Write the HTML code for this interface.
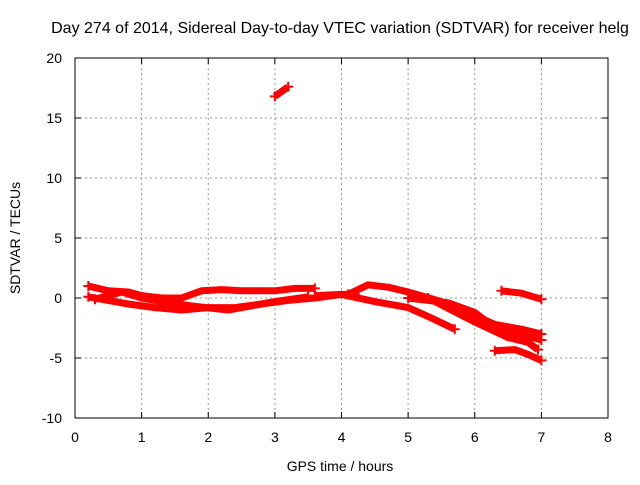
<!DOCTYPE html>
<html><head><meta charset="utf-8"><style>
body{margin:0;background:#fff}
svg text{font-family:"Liberation Sans",sans-serif;font-size:14px;fill:#000}
</style></head><body>
<svg id="c" width="640" height="480">
<text x="340" y="33" text-anchor="middle" style="font-size:16px">Day 274 of 2014, Sidereal Day-to-day VTEC variation (SDTVAR) for receiver helg</text>
<text x="340" y="471" text-anchor="middle">GPS time / hours</text>
<text transform="translate(20,238) rotate(-90)" text-anchor="middle">SDTVAR / TECUs</text>
<g id="grid"></g><g id="ticks"></g><g id="series"></g>
<rect x="75" y="58" width="533" height="360" fill="none" stroke="#000"/>
</svg>
<script>
const xTicks=[0,1,2,3,4,5,6,7,8];
const yTicks=[-10,-5,0,5,10,15,20];
const sA=[[0.2,1.0],[0.5,0.6],[0.8,0.5],[1.0,0.2],[1.3,0.0],[1.6,0.0],[1.9,0.6],[2.2,0.7],[2.5,0.6],[3.0,0.6],[3.3,0.8],[3.6,0.8]];
const sB=[[0.2,0.1],[0.5,-0.2],[0.8,-0.5],[1.2,-0.8],[1.6,-1.0],[2.0,-0.8],[2.4,-0.8],[2.8,-0.5],[3.2,-0.2],[3.6,0.0],[4.0,0.3],[4.2,0.3]];
const sC=[[0.3,-0.1],[0.7,0.5],[1.0,0.0],[1.4,-0.4],[1.8,-0.7],[2.3,-1.0],[2.6,-0.7],[3.0,-0.3],[3.5,0.1]];
const sD=[[3.6,0.2],[4.0,0.3],[4.5,-0.3],[5.0,-0.8],[5.4,-1.8],[5.7,-2.6]];
const sE=[[4.1,0.3],[4.4,1.1],[4.7,0.9],[5.0,0.5],[5.5,-0.3],[5.9,-1.2],[6.3,-2.2],[6.7,-2.6],[7.0,-3.0]];
const sF=[[5.0,0.0],[5.6,-0.4],[6.0,-1.2],[6.3,-2.5],[6.7,-3.0],[7.0,-3.5]];
const sG=[[5.3,0.0],[6.0,-2.0],[6.5,-3.3],[6.8,-3.7],[6.95,-4.3]];
const sH=[[6.3,-4.4],[6.6,-4.3],[6.8,-4.7],[7.0,-5.2]];
const sI=[[6.4,0.6],[6.7,0.4],[7.0,-0.1]];
const sJ=[[3.0,16.8],[3.2,17.6]];
const allSeries=[sA,sB,sC,sD,sE,sF,sG,sH,sI,sJ];
const X=h=>75+h*533/8, Y=v=>418-(v+10)*12;
const NS="http://www.w3.org/2000/svg";
function mk(t,a,p){const e=document.createElementNS(NS,t);for(const k in a)e.setAttribute(k,a[k]);p.appendChild(e);return e;}
const g=document.getElementById('grid'),tk=document.getElementById('ticks'),se=document.getElementById('series');
xTicks.forEach(t=>{const x=X(t);
 if(t>0&&t<8){const l=mk('line',{x1:x,x2:x,y1:58,y2:418,stroke:'#999','stroke-dasharray':'2,3'},g);
 
 }
 mk('line',{x1:x,x2:x,y1:418,y2:412,stroke:'#000'},tk);mk('line',{x1:x,x2:x,y1:58,y2:64,stroke:'#000'},tk);
 const tx=mk('text',{x:x,y:442,'text-anchor':'middle'},tk);tx.textContent=t;
 
 });
yTicks.forEach(t=>{const y=Y(t);
 if(t>-10&&t<20){const l=mk('line',{x1:75,x2:608,y1:y,y2:y,stroke:'#999','stroke-dasharray':'2,3'},g);
 
 }
 mk('line',{x1:75,x2:81,y1:y,y2:y,stroke:'#000'},tk);mk('line',{x1:608,x2:602,y1:y,y2:y,stroke:'#000'},tk);
 const tx=mk('text',{x:62,y:y+5,'text-anchor':'end'},tk);tx.textContent=t;
 
 });
allSeries.forEach((s,i)=>{
 const p=mk('polyline',{points:s.map(d=>X(d[0])+','+Y(d[1])).join(' '),fill:'none',stroke:'#f00','stroke-width':7,'stroke-linejoin':'round'},se);
 
 
 [s[0],s[s.length-1]].forEach(d=>{const x=X(d[0]),y=Y(d[1]);
  mk('path',{d:`M${x-5},${y}h10M${x},${y-5}v10`,stroke:'#f00','stroke-width':2},se);});
});
</script>
</body></html>
